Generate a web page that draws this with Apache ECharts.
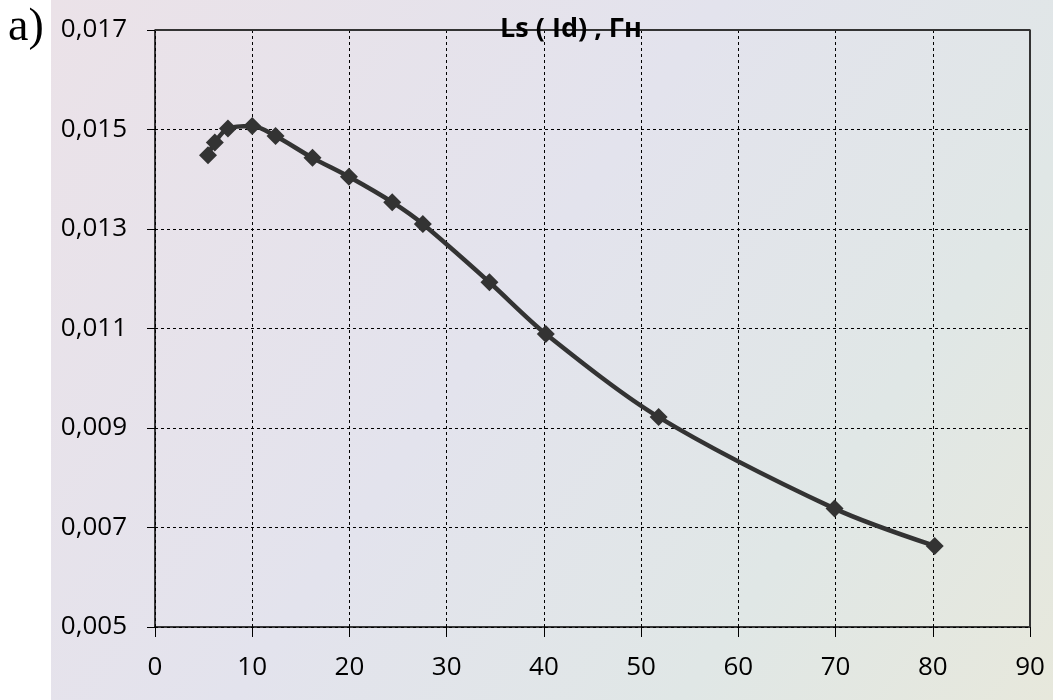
<!DOCTYPE html>
<html>
<head>
<meta charset="utf-8">
<script src="https://cdn.jsdelivr.net/npm/echarts@6/dist/echarts.min.js"></script>
<style>
  html, body { margin: 0; padding: 0; background: #fff; }
  #chart { width: 1053px; height: 700px; }
</style>
</head>
<body>
<div id="chart"></div>
<script>
  // данные
  const xValues = [5.45, 6.15, 7.5, 10.0, 12.4, 16.2, 19.95, 24.4, 27.55, 34.4, 40.2, 51.8, 69.9, 80.2]
  const lsValues = [0.01448, 0.01474, 0.01502, 0.01507, 0.01487, 0.01443, 0.01405, 0.01354, 0.01310, 0.01193, 0.01089, 0.00922, 0.00738, 0.00663]
  const yTicks = [0.005, 0.007, 0.009, 0.011, 0.013, 0.015, 0.017]
  const xTicks = [0, 10, 20, 30, 40, 50, 60, 70, 80, 90]
  const titleText = 'Ls ( Id) , Гн'
  const panelText = 'а)'

  let chart = echarts.init(document.getElementById('chart'))
  chart.setOption({
    backgroundColor: '#ffffff',
    animation: false,
    graphic: [{
      type: 'rect',
      z: -100,
      shape: { x: 51, y: 0, width: 1002, height: 700 },
      style: {
        fill: {
          type: 'linear', x: 0, y: 0, x2: 1, y2: 1,
          colorStops: [
            { offset: 0, color: '#ebe2e8' },
            { offset: 0.45, color: '#e3e3ed' },
            { offset: 0.75, color: '#e0e7e6' },
            { offset: 1, color: '#e7e8dc' }
          ]
        }
      }
    }],
    title: [{
      text: titleText,
      left: 566,
      top: 11,
      textAlign: 'center',
      textStyle: { fontFamily: 'Open Sans', fontWeight: 'bold', fontSize: 27, color: '#000' }
    }, {
      text: panelText,
      left: 3,
      top: 0,
      textStyle: { fontFamily: 'Liberation Serif', fontWeight: 'normal', fontSize: 46, color: '#000' }
    }],
    grid: { left: 155, right: 23, top: 30, bottom: 73 },
    xAxis: {
      type: 'value',
      min: xTicks[0],
      max: xTicks[xTicks.length - 1],
      interval: 10,
      axisLine: { show: true, lineStyle: { color: '#000', width: 1.5 } },
      axisTick: { show: true, length: 10, lineStyle: { color: '#000' } },
      axisLabel: { margin: 28, fontFamily: 'Open Sans', fontSize: 26, color: '#000' },
      splitLine: { show: true, lineStyle: { color: '#000', type: [3, 3], width: 1 } }
    },
    yAxis: {
      type: 'value',
      min: yTicks[0],
      max: yTicks[yTicks.length - 1],
      interval: 0.002,
      axisLine: { show: true, lineStyle: { color: '#000', width: 1.5 } },
      axisTick: { show: true, length: 8, lineStyle: { color: '#000' } },
      axisLabel: {
        margin: 28, fontFamily: 'Open Sans', fontSize: 26, color: '#000',
        formatter: v => v.toFixed(3).replace('.', ',')
      },
      splitLine: { show: true, lineStyle: { color: '#000', type: [3, 3], width: 1 } }
    },
    series: [{
      type: 'line',
      data: xValues.map((x, i) => [x, lsValues[i]]),
      smooth: 0.3,
      symbol: 'diamond',
      symbolSize: 18,
      lineStyle: { color: '#333333', width: 4.5 },
      itemStyle: { color: '#333333' },
      z: 5
    }, {
      // рамка области построения сверху и справа
      type: 'line',
      data: [[0, 0.017], [90, 0.017], [90, 0.005]],
      symbol: 'none',
      lineStyle: { color: '#333', width: 2 },
      silent: true,
      z: 1
    }]
  })
</script>
</body>
</html>
